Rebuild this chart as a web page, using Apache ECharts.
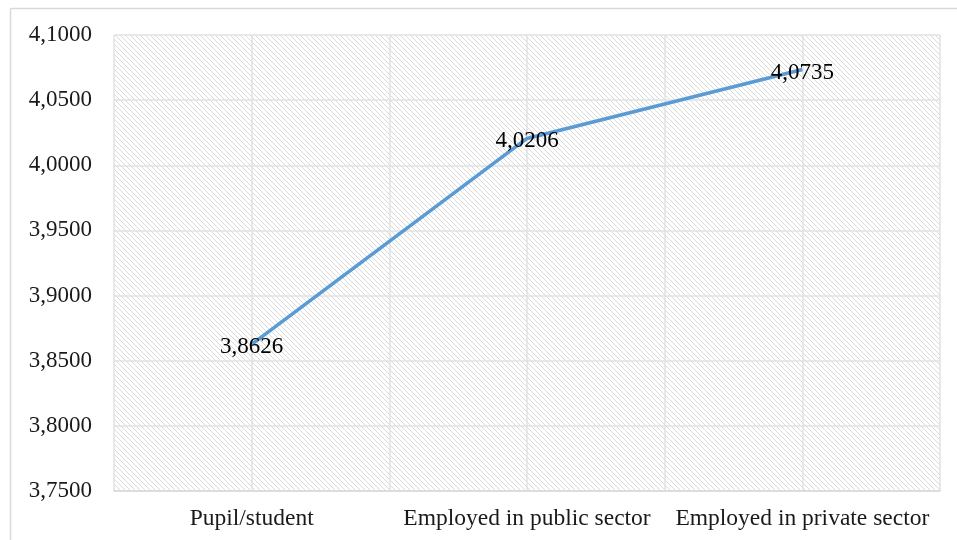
<!DOCTYPE html>
<html><head><meta charset="utf-8">
<script src="https://cdn.jsdelivr.net/npm/echarts@6/dist/echarts.min.js"></script>
<style>html,body{margin:0;padding:0;background:#fff}#c{width:957px;height:540px}</style>
</head><body><div id="c"></div>
<script>
const categories = ["Pupil/student", "Employed in public sector", "Employed in private sector"];
const values = [3.8626, 4.0206, 4.0735];
const valueLabels = ["3,8626", "4,0206", "4,0735"];
const yMin = 3.75, yMax = 4.10, yStep = 0.05;

function hatch() {
  const s = 5;
  const cv = document.createElement('canvas');
  cv.width = s; cv.height = s;
  const ctx = cv.getContext('2d');
  ctx.fillStyle = '#ffffff'; ctx.fillRect(0,0,s,s);
  ctx.strokeStyle = '#dadada'; ctx.lineWidth = 1;
  ctx.beginPath();
  ctx.moveTo(-1,-1); ctx.lineTo(s+1,s+1);
  ctx.moveTo(-1,s-1); ctx.lineTo(1,s+1);
  ctx.moveTo(s-1,-1); ctx.lineTo(s+1,1);
  ctx.stroke();
  return {image: cv, repeat: 'repeat'};
}

const chart = echarts.init(document.getElementById('c'), null, {renderer: 'canvas'});
const font = '"Liberation Serif","Times New Roman",serif';
chart.setOption({
  animation: false,
  backgroundColor: '#fff',
  grid: {left: 114, right: 17, top: 35, bottom: 49, show: true, backgroundColor: hatch(), borderWidth: 0},
  graphic: [
    {type: 'line', shape: {x1: 10.5, y1: 8.5, x2: 957, y2: 8.5}, style: {stroke: '#d9d9d9', lineWidth: 1.5}},
    {type: 'line', shape: {x1: 10.5, y1: 8.5, x2: 10.5, y2: 540}, style: {stroke: '#d9d9d9', lineWidth: 1.5}}
  ],
  xAxis: [
    {type: 'category', data: categories, boundaryGap: true,
     axisLine: {show: true, lineStyle: {color: '#d9d9d9', width: 1.5}},
     axisTick: {show: false},
     axisLabel: {color: '#1a1a1a', fontFamily: font, fontSize: 23.5, margin: 16, interval: 0},
     splitLine: {show: false}},
    {type: 'value', min: 0, max: 6, interval: 1, show: true, position: 'top',
     axisLine: {show: false}, axisTick: {show: false}, axisLabel: {show: false},
     splitLine: {show: true, lineStyle: {color: '#e2e2e2', width: 1.5}}}
  ],
  yAxis: {
    type: 'value', min: yMin, max: yMax, interval: yStep,
    axisLine: {show: false}, axisTick: {show: false},
    axisLabel: {color: '#1a1a1a', fontFamily: font, fontSize: 23, margin: 22,
      formatter: v => v.toFixed(4).replace('.', ',')},
    splitLine: {show: true, lineStyle: {color: '#e2e2e2', width: 1.5}}
  },
  series: [{
    type: 'line', xAxisIndex: 0, data: values, symbol: 'circle', symbolSize: 2, showSymbol: true,
    itemStyle: {color: 'rgba(0,0,0,0)', borderWidth: 0},
    lineStyle: {color: '#5B9BD5', width: 3.5},
    label: {show: true, position: 'inside', offset: [0, 3], color: '#000', fontFamily: font, fontSize: 23,
      formatter: p => valueLabels[p.dataIndex]},
    z: 5
  }]
});
</script></body></html>
